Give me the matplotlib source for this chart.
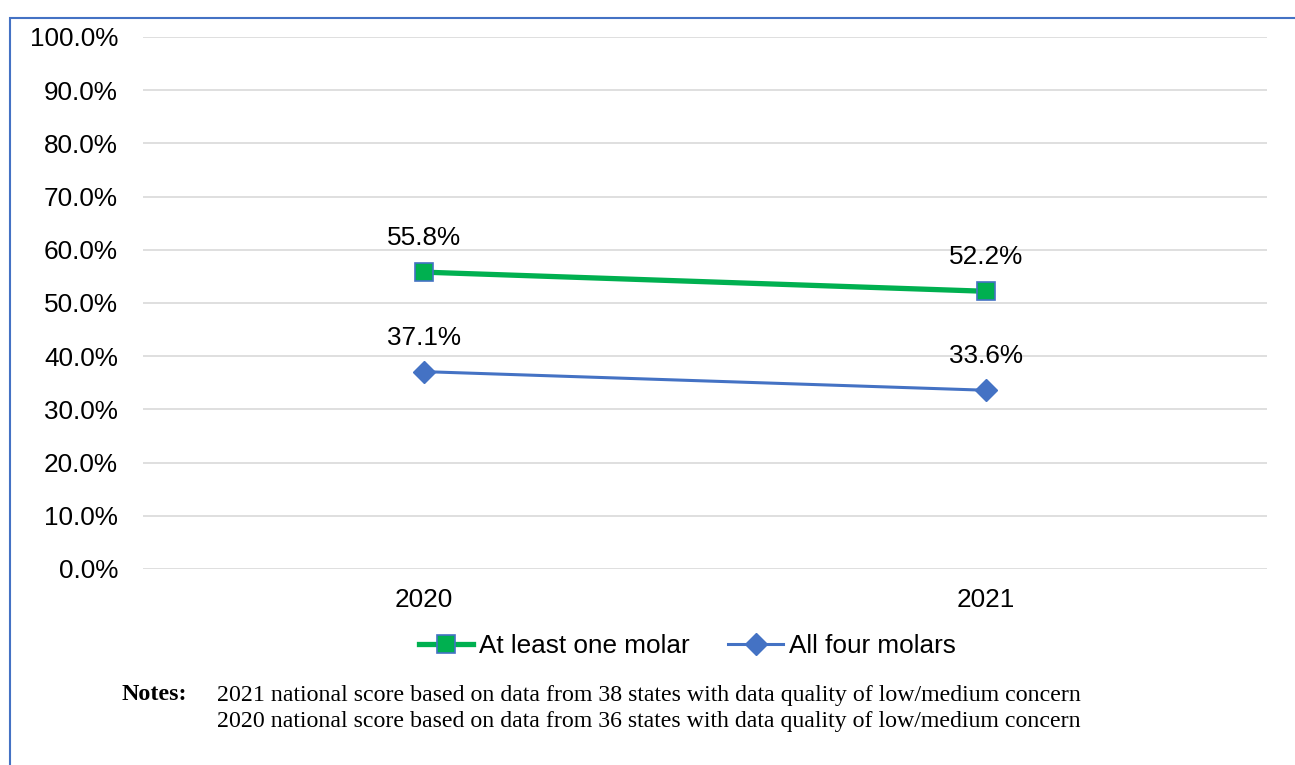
import matplotlib.pyplot as plt
from matplotlib.patches import Rectangle

years = ["2020", "2021"]
at_least_one = [55.8, 52.2]
all_four = [37.1, 33.6]
y_ticks = [0, 10, 20, 30, 40, 50, 60, 70, 80, 90, 100]
notes = [
    "2021 national score based on data from 38 states with data quality of low/medium concern",
    "2020 national score based on data from 36 states with data quality of low/medium concern",
]

plt.rcParams['font.family'] = ['Liberation Sans', 'DejaVu Sans']

green = '#00B050'
blue = '#4472C4'
fs = 18.8

fig = plt.figure(figsize=(12.95, 7.65), dpi=100)
ax = fig.add_axes([143 / 1295, 1 - 569 / 765, 1124 / 1295, 532 / 765])

x = [i + 0.5 for i in range(len(years))]

ax.plot(x, at_least_one, color=green, linewidth=3.8, marker='s', markersize=13,
        markerfacecolor=green, markeredgecolor=blue, markeredgewidth=1.2,
        label='At least one molar', zorder=3)
ax.plot(x, all_four, color=blue, linewidth=2.2, marker='D', markersize=11,
        markerfacecolor=blue, markeredgecolor=blue,
        label='All four molars', zorder=3)

# value labels above each point
for series in (at_least_one, all_four):
    for xi, v in zip(x, series):
        ax.annotate(f'{v:.1f}%', (xi, v), xytext=(0, 24.5), textcoords='offset points',
                    ha='center', va='center', fontsize=fs)

ax.set_xlim(0, len(years))
ax.set_ylim(0, 100)
ax.set_xticks(x)
ax.set_xticklabels(years, fontsize=fs)
ax.set_yticks(y_ticks)
ax.set_yticklabels([f'{t:.1f}%' for t in y_ticks], fontsize=fs)
ax.tick_params(length=0)
ax.tick_params(axis='y', pad=18)
ax.tick_params(axis='x', pad=14)
ax.grid(axis='y', color='#D9D9D9', linewidth=1.2)
ax.set_axisbelow(True)
for s in ax.spines.values():
    s.set_visible(False)

fig.legend(loc='center', bbox_to_anchor=(687 / 1295, 1 - 646 / 765), ncol=2,
           frameon=False, fontsize=fs, handlelength=2.1, columnspacing=1.5,
           handletextpad=0.2)

# notes underneath the chart
fig.text(122 / 1295, 1 - 695 / 765, 'Notes:', family='Liberation Serif', fontweight='bold',
         fontsize=17.3, va='center')
for i, line in enumerate(notes):
    fig.text(217 / 1295, 1 - (695 + 27 * i) / 765, line, family='Liberation Serif',
             fontsize=17.2, va='center')

# blue frame around the figure
fig.patches.append(Rectangle((10 / 1295, -0.05), 1.1, 1 - 18 / 765 + 0.05,
                             transform=fig.transFigure, fill=False,
                             edgecolor=blue, linewidth=1.5))

fig.savefig('out.png', dpi=100)
